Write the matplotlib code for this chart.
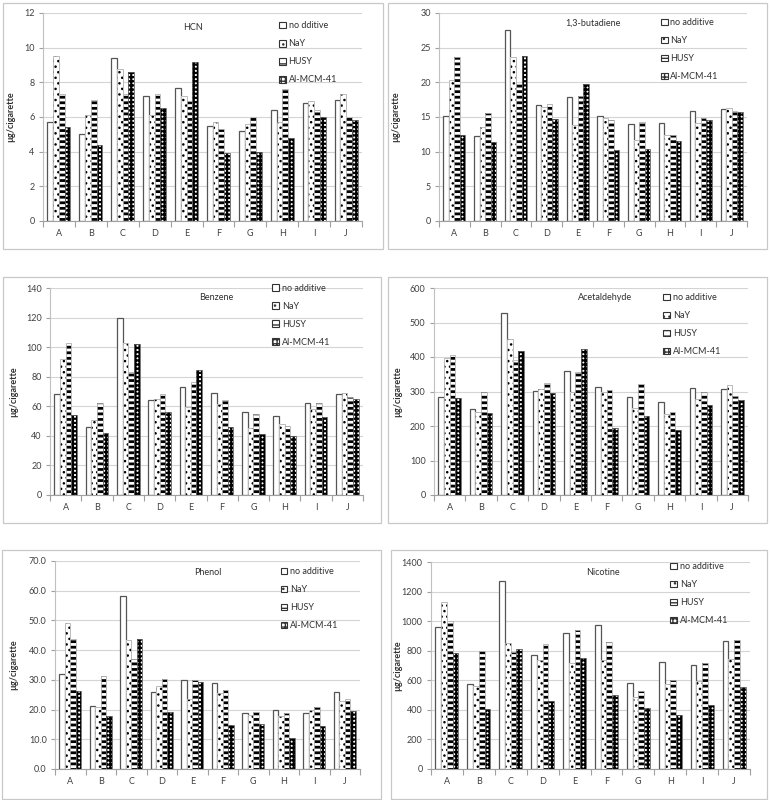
import numpy as np
import matplotlib
matplotlib.use("Agg")
import matplotlib.pyplot as plt
from matplotlib.patches import Rectangle, Patch
from matplotlib.ticker import FormatStrFormatter

plt.rcParams["font.family"] = ["Lato", "DejaVu Sans"]

W, H = 770, 800

categories = ["A", "B", "C", "D", "E", "F", "G", "H", "I", "J"]

# ── data ─────────────────────────────────────────────────────────────────────
hcn_none = [5.7, 5.0, 9.4, 7.2, 7.7, 5.5, 5.2, 6.4, 6.8, 7.0]
hcn_nay  = [9.5, 6.1, 8.75, 6.1, 7.2, 5.7, 5.6, 5.7, 6.9, 7.3]
hcn_husy = [7.3, 7.0, 7.3, 7.3, 6.9, 5.3, 6.0, 7.6, 6.4, 6.0]
hcn_al   = [5.4, 4.4, 8.6, 6.5, 9.2, 3.9, 4.0, 4.8, 6.0, 5.8]

but_none = [15.2, 12.3, 27.6, 16.7, 17.9, 15.1, 14.0, 14.1, 15.8, 16.2]
but_nay  = [20.3, 13.5, 23.7, 16.4, 13.9, 14.9, 11.7, 12.4, 14.1, 16.3]
but_husy = [23.7, 15.6, 19.8, 16.9, 18.0, 14.6, 14.3, 12.4, 14.9, 15.8]
but_al   = [12.4, 11.4, 23.8, 14.7, 19.8, 10.3, 10.4, 11.5, 14.6, 15.7]

ben_none = [68.5, 46, 119.5, 64.5, 73, 69, 56, 53.5, 62, 68]
ben_nay  = [92, 50.5, 103, 65, 59.5, 61.5, 45, 48, 58, 69]
ben_husy = [103, 62.5, 83, 68, 76.5, 64, 54.5, 47, 62.5, 66.5]
ben_al   = [54, 42, 102, 56, 84.5, 46, 41, 40, 52.5, 65]

ace_none = [285, 250, 528, 302, 360, 314, 283, 270, 310, 308]
ace_nay  = [398, 240, 452, 308, 298, 298, 252, 236, 278, 320]
ace_husy = [405, 298, 390, 325, 357, 304, 322, 242, 298, 288]
ace_al   = [282, 239, 418, 296, 424, 194, 228, 188, 262, 274]

phe_none = [32.0, 21.2, 58.1, 25.8, 29.8, 28.9, 18.9, 19.7, 18.9, 25.9]
phe_nay  = [49.0, 21.0, 43.3, 28.0, 23.5, 25.7, 18.2, 18.0, 19.7, 22.9]
phe_husy = [43.7, 31.3, 37.0, 30.3, 29.8, 26.6, 19.2, 19.0, 20.8, 23.4]
phe_al   = [26.3, 18.0, 43.8, 19.2, 29.2, 14.8, 15.0, 10.5, 14.5, 19.5]

nic_none = [962, 578, 1270, 773, 922, 975, 585, 725, 705, 868]
nic_nay  = [1130, 560, 850, 740, 720, 735, 485, 578, 592, 745]
nic_husy = [1000, 798, 790, 848, 940, 860, 530, 600, 715, 870]
nic_al   = [785, 405, 810, 460, 752, 500, 415, 365, 430, 552]

# ── styles: (hatch, hatch linewidth, outline colour) ─────────────────────────
STYLES = [
    (None,   0.0, "#555555"),
    ("...",  1.0, "#b0b0b0"),
    ("---",  2.0, "#b0b0b0"),
    ("++++", 1.6, "#606060"),
]

# panel: title, series, legend labels, ylim, step, fmt,
#        axes box (px), border box (px), ylabel x (px), title pos, legend pos
PANELS = [
    ("HCN", [hcn_none, hcn_nay, hcn_husy, hcn_al],
     ["no dditive", "NaY", "HUSY", "Al-MCM-41"], 12, 2, "%d",
     (43, 13, 362, 221), (3, 3, 383, 249), 15, (0.47, 0.93), (0.74, 0.96)),
    ("1,3-butadiene", [but_none, but_nay, but_husy, but_al],
     ["no additive", "NaY", "HUSY", "Al-MCM-41"], 30, 5, "%d",
     (439, 13, 747, 221), (388, 3, 767, 249), 400, (0.50, 0.95), (0.72, 0.975)),
    ("Benzene", [ben_none, ben_nay, ben_husy, ben_al],
     ["no additive", "NaY", "HUSY", "Al-MCM-41"], 140, 20, "%d",
     (50, 288, 363, 495), (3, 277, 381, 523), 18, (0.53, 0.955), (0.71, 1.02)),
    ("Acetaldehyde", [ace_none, ace_nay, ace_husy, ace_al],
     ["no additive", "NaY", "HUSY", "Al-MCM-41"], 600, 100, "%d",
     (434, 288, 748, 495), (388, 277, 767, 523), 402, (0.545, 0.955), (0.73, 0.975)),
    ("Phenol", [phe_none, phe_nay, phe_husy, phe_al],
     ["no additive", "NaY", "HUSY", "Al-MCM-41"], 70, 10, "%.1f",
     (55, 561, 360, 769), (2, 550, 381, 799), 18, (0.50, 0.947), (0.74, 0.97)),
    ("Nicotine", [nic_none, nic_nay, nic_husy, nic_al],
     ["no additive", "NaY", "HUSY", "Al-MCM-41"], 1400, 200, "%d",
     (431, 562, 750, 769), (391, 550, 767, 799), 402, (0.54, 0.95), (0.75, 1.0)),
]

fig = plt.figure(figsize=(W / 100, H / 100), dpi=100, facecolor="white")

x = np.arange(len(categories))
bw = 0.18

for (title, series, labels, ymax, step, fmt, abox, bbox,
     ylab_x, tpos, lpos) in PANELS:
    # panel frame
    bx0, by0, bx1, by1 = bbox
    fig.patches.append(Rectangle((bx0 / W, 1 - by1 / H), (bx1 - bx0) / W,
                                 (by1 - by0) / H, transform=fig.transFigure,
                                 fill=False, edgecolor="#c8c8c8", lw=0.9))
    x0, y0, x1, y1 = abox
    ax = fig.add_axes([x0 / W, 1 - y1 / H, (x1 - x0) / W, (y1 - y0) / H])

    handles = []
    for i, (vals, lab, (hatch, hlw, oc)) in enumerate(zip(series, labels, STYLES)):
        pos = x + (i - 1.5) * bw
        if hatch is None:
            ax.bar(pos, vals, bw, facecolor="white", edgecolor=oc, linewidth=0.9)
        else:
            with plt.rc_context({"hatch.linewidth": hlw}):
                h = ax.bar(pos, vals, bw, facecolor="white", edgecolor="black",
                           hatch=hatch, linewidth=0)
                for p in h:
                    if hasattr(p, "set_hatch_linewidth"):
                        p.set_hatch_linewidth(hlw)
            ax.bar(pos, vals, bw, fill=False, edgecolor=oc, linewidth=0.6)
        handles.append(Patch(facecolor="white", edgecolor="#333333",
                             hatch=hatch, linewidth=0.8))

    ax.set_xlim(-0.5, len(categories) - 0.5)
    ax.set_ylim(0, ymax)
    ax.set_yticks(np.arange(0, ymax + step / 2, step))
    ax.yaxis.set_major_formatter(FormatStrFormatter(fmt))
    ax.set_xticks(x)
    ax.set_xticklabels(categories)
    ax.set_xticks(np.arange(-0.5, len(categories), 1), minor=True)
    ax.tick_params(axis="x", which="major", length=0, pad=6,
                   labelsize=6.5, labelcolor="#404040")
    ax.tick_params(axis="x", which="minor", length=4, color="#a0a0a0", width=0.8)
    ax.tick_params(axis="y", length=3, color="#a0a0a0", width=0.8,
                   labelsize=6.5, labelcolor="#404040", pad=3)

    ax.grid(axis="y", color="#d4d4d4", lw=0.8)
    ax.set_axisbelow(True)
    for s in ("top", "right"):
        ax.spines[s].set_visible(False)
    ax.spines["bottom"].set_color("#a0a0a0")
    ax.spines["left"].set_color("#c0c0c0")
    ax.spines["bottom"].set_linewidth(0.8)
    ax.spines["left"].set_linewidth(0.8)

    ax.set_ylabel("µg/cigarette", fontsize=6.5, fontweight="bold", color="#303030")
    ax.yaxis.set_label_coords((ylab_x - x0) / (x1 - x0), 0.5)

    ax.text(tpos[0], tpos[1], title, transform=ax.transAxes,
            ha="center", va="center", fontsize=6.5, color="#303030")

    ax.legend(handles, labels, loc="upper left", bbox_to_anchor=lpos,
              frameon=False, fontsize=6.5, handlelength=0.75, handleheight=0.75,
              handletextpad=0.3, labelspacing=1.0, borderpad=0,
              borderaxespad=0, labelcolor="#303030")

fig.savefig("out.png", dpi=100, facecolor="white")
